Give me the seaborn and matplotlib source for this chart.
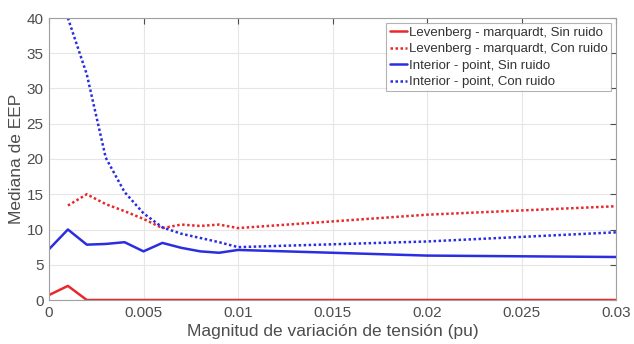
import numpy as np
import pandas as pd
import matplotlib
matplotlib.use("Agg")
import matplotlib.pyplot as plt
import seaborn as sns

x_all = [0, 0.001, 0.002, 0.003, 0.004, 0.005, 0.006, 0.007, 0.008, 0.009, 0.01, 0.02, 0.03]
x_noise = [0.001, 0.002, 0.003, 0.004, 0.005, 0.006, 0.007, 0.008, 0.009, 0.01, 0.02, 0.03]

lm_sin = [0.7, 2.0, 0.0, 0.0, 0.0, 0.0, 0.0, 0.0, 0.0, 0.0, 0.0, 0.0, 0.0]
lm_con = [13.4, 15.0, 13.6, 12.6, 11.5, 10.2, 10.7, 10.5, 10.7, 10.2, 12.1, 13.3]
ip_sin = [7.2, 10.0, 7.85, 7.95, 8.2, 6.9, 8.1, 7.4, 6.9, 6.7, 7.1, 6.3, 6.1]
ip_con = [40.0, 32.0, 20.2, 15.3, 12.3, 10.3, 9.4, 8.8, 8.2, 7.5, 8.3, 9.6]

labels = ["Levenberg - marquardt, Sin ruido",
          "Levenberg - marquardt, Con ruido",
          "Interior - point, Sin ruido",
          "Interior - point, Con ruido"]

df = pd.concat([
    pd.DataFrame({"x": x_all, "y": lm_sin, "serie": labels[0]}),
    pd.DataFrame({"x": x_noise, "y": lm_con, "serie": labels[1]}),
    pd.DataFrame({"x": x_all, "y": ip_sin, "serie": labels[2]}),
    pd.DataFrame({"x": x_noise, "y": ip_con, "serie": labels[3]}),
])

sns.set_style("white")
plt.rcParams['font.family'] = ['Liberation Sans', 'DejaVu Sans']

fig = plt.figure(figsize=(6.34, 3.44), dpi=100)
ax = fig.add_axes([49/634, 1-300/344, (616-49)/634, (300-18)/344])

colors = {labels[0]: "#e8282b", labels[1]: "#e8282b", labels[2]: "#2a2ee0", labels[3]: "#2a2ee0"}
styles = {labels[0]: "", labels[1]: (1, 1), labels[2]: "", labels[3]: (1, 1)}
sns.lineplot(data=df, x="x", y="y", hue="serie", style="serie", palette=colors,
             dashes=styles, ax=ax, linewidth=1.8, sort=False, estimator=None)

ax.set_xlim(0, 0.03)
ax.set_ylim(0, 40)
ax.set_xticks([0, 0.005, 0.01, 0.015, 0.02, 0.025, 0.03])
ax.set_xticklabels(["0", "0.005", "0.01", "0.015", "0.02", "0.025", "0.03"])
ax.set_yticks([0, 5, 10, 15, 20, 25, 30, 35, 40])
ax.grid(True, color="#e6e6e6", linewidth=0.8)
ax.tick_params(direction="in", length=4, labelsize=11, colors="#4d4d4d", top=True, right=True, pad=4)
for s in ax.spines.values():
    s.set_color("#a0a0a0")
    s.set_linewidth(0.8)
ax.set_xlabel("Magnitud de variación de tensión (pu)", fontsize=12.5, color="#4d4d4d", labelpad=3)
ax.set_ylabel("Mediana de EEP", fontsize=12.5, color="#4d4d4d", labelpad=2)

leg = ax.legend(loc="upper right", fontsize=9.5, frameon=True, fancybox=False,
                handlelength=1.3, handletextpad=0.15, borderpad=0.25, labelspacing=0.32,
                borderaxespad=0.4)
leg.get_frame().set_edgecolor("#a0a0a0")
leg.get_frame().set_linewidth(0.8)
for t in leg.get_texts():
    t.set_color("#333333")

fig.savefig("out.png", dpi=100)
